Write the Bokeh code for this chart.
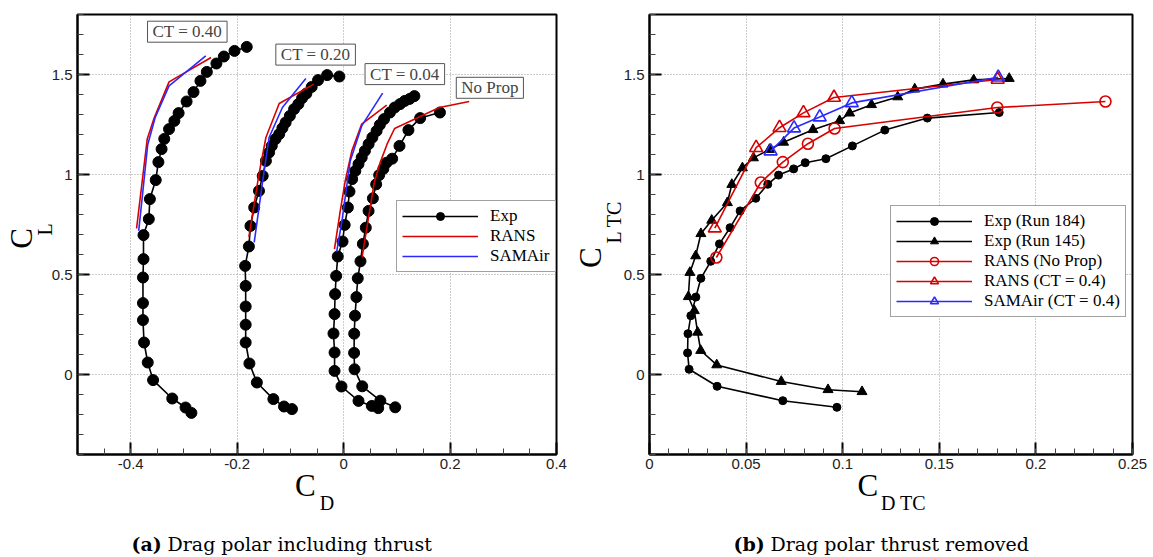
from bokeh.plotting import figure
from bokeh.layouts import row, column
from bokeh.models import FixedTicker, Legend, LegendItem, Label, Range1d, LinearAxis
from bokeh.embed import file_html
from bokeh.resources import INLINE

# ---------------- data: (a) drag polar including thrust ----------------
EXP_CT040_CD = [-0.286, -0.297, -0.322, -0.358, -0.368, -0.375, -0.377, -0.377, -0.377, -0.376,
                -0.376, -0.366, -0.364, -0.353, -0.348, -0.342, -0.337, -0.328, -0.318, -0.310,
                -0.295, -0.282, -0.269, -0.257, -0.239, -0.225, -0.205, -0.182]
EXP_CT040_CL = [-0.192, -0.165, -0.120, -0.028, 0.060, 0.160, 0.272, 0.357, 0.485, 0.577,
                0.697, 0.777, 0.877, 0.972, 1.062, 1.127, 1.178, 1.227, 1.268, 1.307,
                1.365, 1.412, 1.468, 1.513, 1.555, 1.590, 1.618, 1.638]

EXP_CT020_CD = [-0.097, -0.112, -0.132, -0.163, -0.177, -0.184, -0.184, -0.184, -0.184, -0.185,
                -0.178, -0.175, -0.168, -0.159, -0.152, -0.146, -0.140, -0.135, -0.128, -0.121,
                -0.115, -0.109, -0.101, -0.093, -0.085, -0.078, -0.070, -0.060, -0.048, -0.031, -0.008]
EXP_CT020_CL = [-0.173, -0.160, -0.123, -0.040, 0.055, 0.160, 0.249, 0.340, 0.443, 0.543,
                0.640, 0.743, 0.835, 0.918, 0.993, 1.068, 1.110, 1.143, 1.177, 1.202,
                1.232, 1.260, 1.293, 1.327, 1.352, 1.382, 1.405, 1.438, 1.472, 1.497, 1.490]

EXP_CT004_CD = [0.065, 0.053, 0.028, -0.004, -0.017, -0.017, -0.019, -0.017, -0.016, -0.014,
                -0.011, -0.002, 0.002, 0.008, 0.011, 0.016, 0.022, 0.028, 0.034, 0.040,
                0.047, 0.054, 0.062, 0.068, 0.076, 0.087, 0.096, 0.106, 0.115, 0.124, 0.133]
EXP_CT004_CL = [-0.168, -0.157, -0.132, -0.060, 0.018, 0.110, 0.205, 0.302, 0.402, 0.493,
                0.590, 0.665, 0.748, 0.835, 0.915, 0.977, 1.018, 1.052, 1.085, 1.118,
                1.152, 1.185, 1.218, 1.248, 1.277, 1.310, 1.335, 1.352, 1.368, 1.378, 1.392]

RANS_CT040_CD = [-0.389, -0.369, -0.356, -0.328, -0.249]
RANS_CT040_CL = [0.730, 1.177, 1.282, 1.463, 1.585]
SAM_CT040_CD = [-0.385, -0.368, -0.354, -0.328, -0.259]
SAM_CT040_CL = [0.718, 1.150, 1.285, 1.443, 1.593]

RANS_CT020_CD = [-0.178, -0.159, -0.146, -0.121, -0.056]
RANS_CT020_CL = [0.688, 1.002, 1.185, 1.355, 1.452]
SAM_CT020_CD = [-0.168, -0.152, -0.140, -0.115, -0.071]
SAM_CT020_CL = [0.660, 0.968, 1.185, 1.335, 1.480]

RANS_CT004_CD = [-0.0172, -0.0063, 0.003, 0.0155, 0.034, 0.081]
RANS_CT004_CL = [0.627, 0.818, 0.968, 1.118, 1.252, 1.347]
SAM_CT004_CD = [-0.013, -0.003, 0.0124, 0.034, 0.0733]
SAM_CT004_CL = [0.614, 0.770, 1.068, 1.243, 1.407]

# ---------------- data: (b) drag polar thrust removed ----------------
RUN184_CD = [0.097, 0.069, 0.035, 0.0205, 0.0197, 0.0199, 0.0214, 0.024, 0.0266, 0.0317,
             0.0362, 0.0417, 0.0469, 0.055, 0.0612, 0.0668, 0.0746, 0.0806, 0.0913, 0.105,
             0.1218, 0.1438, 0.181]
RUN184_CL = [-0.164, -0.131, -0.059, 0.026, 0.108, 0.204, 0.294, 0.387, 0.481, 0.566,
             0.653, 0.734, 0.818, 0.881, 0.951, 0.997, 1.028, 1.059, 1.079, 1.143,
             1.222, 1.282, 1.310]

RUN145_CD = [0.110, 0.0924, 0.0682, 0.0348, 0.0265, 0.0249, 0.0232, 0.0201, 0.0209, 0.0239,
             0.0266, 0.0322, 0.0403, 0.0426, 0.0481, 0.0538, 0.0621, 0.0694, 0.0846, 0.0984,
             0.1036, 0.1149, 0.1285, 0.1373, 0.1519, 0.1678, 0.1862]
RUN145_CL = [-0.086, -0.076, -0.035, 0.048, 0.120, 0.211, 0.319, 0.389, 0.510, 0.593,
             0.704, 0.771, 0.859, 0.950, 1.033, 1.083, 1.125, 1.161, 1.224, 1.269,
             1.307, 1.349, 1.388, 1.427, 1.452, 1.473, 1.480]

RANS_NP_CD = [0.0346, 0.0576, 0.069, 0.082, 0.0958, 0.180, 0.236]
RANS_NP_CL = [0.585, 0.960, 1.062, 1.154, 1.230, 1.335, 1.365]

RANS_T04_CD = [0.0338, 0.0552, 0.0673, 0.0797, 0.0955, 0.1802]
RANS_T04_CL = [0.732, 1.134, 1.234, 1.308, 1.385, 1.475]

SAM_T04_CD = [0.0627, 0.0748, 0.0881, 0.1047, 0.1805]
SAM_T04_CL = [1.117, 1.232, 1.287, 1.358, 1.486]

# ---------------- ticks ----------------
XA_TICKS = [-0.4, -0.2, 0.0, 0.2, 0.4]
XA_LABELS = ["-0.4", "-0.2", "0", "0.2", "0.4"]
XA_MINOR = [-0.45, -0.4, -0.35, -0.3, -0.25, -0.2, -0.15, -0.1, -0.05, 0.0, 0.05, 0.1, 0.15,
            0.2, 0.25, 0.3, 0.35]
XB_TICKS = [0.0, 0.05, 0.1, 0.15, 0.2, 0.25]
XB_LABELS = ["0", "0.05", "0.1", "0.15", "0.2", "0.25"]
XB_MINOR = [i / 100 for i in range(0, 26)]
Y_TICKS = [0.0, 0.5, 1.0, 1.5]
Y_LABELS = ["0", "0.5", "1", "1.5"]
Y_MINOR = [i / 10 for i in range(-4, 19)]

RED = "#d80000"
BLUE = "#2a2aff"
SERIF = "Liberation Serif"
CAPFONT = "DejaVu Serif"
SANS = "Liberation Sans"
NB = "\u00a0"

H_PLOT = 522    # plot row height (frame 14..454)
H_CAP = 35      # caption strip


def style_label(ax, text, size, standoff):
    ax.axis_label = text
    ax.axis_label_text_font = SERIF
    ax.axis_label_text_font_size = size
    ax.axis_label_text_font_style = "normal"
    ax.axis_label_text_color = "black"
    ax.axis_label_standoff = standoff


def sub_axis(p, side, text, size, standoff):
    ax = LinearAxis(ticker=FixedTicker(ticks=[]), axis_line_color=None,
                    major_tick_line_color=None, minor_tick_line_color=None,
                    major_tick_in=0, major_tick_out=0, minor_tick_in=0, minor_tick_out=0,
                    major_label_standoff=0)
    style_label(ax, text, size, standoff)
    p.add_layout(ax, side)


def make_fig(width, left, right, xr, xticks, xlabels, xminor):
    p = figure(width=width, height=H_PLOT, output_backend="svg", toolbar_location=None,
               x_range=Range1d(*xr), y_range=Range1d(-0.4, 1.8),
               min_border_left=left, min_border_right=right,
               min_border_top=14, min_border_bottom=68)
    p.outline_line_color = "black"
    p.outline_line_width = 2
    p.background_fill_color = "white"
    p.border_fill_color = "white"
    xa, ya = p.below[0], p.left[0]
    xa.ticker = FixedTicker(ticks=xticks, minor_ticks=xminor)
    ya.ticker = FixedTicker(ticks=Y_TICKS, minor_ticks=Y_MINOR)
    xa.major_label_overrides = dict(zip(xticks, xlabels))
    ya.major_label_overrides = dict(zip(Y_TICKS, Y_LABELS))
    for ax in (xa, ya):
        ax.axis_line_width = 2
        ax.axis_line_color = "black"
        ax.major_tick_in = 12
        ax.major_tick_out = 0
        ax.minor_tick_in = 6
        ax.minor_tick_out = 0
        ax.major_tick_line_width = 2
        ax.major_tick_line_color = "black"
        ax.minor_tick_line_width = 1
        ax.minor_tick_line_color = "#444444"
        ax.major_label_text_font = SANS
        ax.major_label_text_font_size = "15px"
        ax.major_label_text_color = "#222222"
    ya.major_label_standoff = 5
    xa.major_label_standoff = 4
    p.grid.grid_line_color = "#999999"
    p.grid.grid_line_dash = "1 2"
    p.grid.grid_line_width = 1
    return p


# ================= panel (a) =================
pa = make_fig(568, 74, 12, (-0.5, 0.4), XA_TICKS, XA_LABELS, XA_MINOR)

exp_renderers = []
for cd, cl in [(EXP_CT040_CD, EXP_CT040_CL), (EXP_CT020_CD, EXP_CT020_CL),
               (EXP_CT004_CD, EXP_CT004_CL), (RUN184_CD, RUN184_CL)]:
    l = pa.line(cd, cl, line_color="black", line_width=1.6)
    s = pa.scatter(cd, cl, marker="circle", size=11, fill_color="black", line_color="black")
    exp_renderers.append((l, s))

rans_a = []
for cd, cl in [(RANS_CT040_CD, RANS_CT040_CL), (RANS_CT020_CD, RANS_CT020_CL),
               (RANS_CT004_CD, RANS_CT004_CL), (RANS_NP_CD, RANS_NP_CL)]:
    rans_a.append(pa.line(cd, cl, line_color=RED, line_width=1.6))
sam_a = []
for cd, cl in [(SAM_CT040_CD, SAM_CT040_CL), (SAM_CT020_CD, SAM_CT020_CL),
               (SAM_CT004_CD, SAM_CT004_CL)]:
    sam_a.append(pa.line(cd, cl, line_color=BLUE, line_width=1.6))

for tx, x, y in [("CT = 0.40", -0.2937, 1.714), ("CT = 0.20", -0.0526, 1.5995),
                 ("CT = 0.04", 0.115, 1.502), ("No Prop", 0.2748, 1.4335)]:
    pa.add_layout(Label(x=x, y=y, text=tx, text_font=SERIF, text_font_size="17px",
                        text_align="center", text_baseline="middle",
                        border_line_color="#555555", border_line_width=1,
                        background_fill_color="white",
                        padding=dict(left=5, right=5, top=1, bottom=1)))

leg_a = Legend(items=[LegendItem(label="Exp", renderers=list(exp_renderers[0])),
                      LegendItem(label="RANS", renderers=[rans_a[0]]),
                      LegendItem(label="SAMAir", renderers=[sam_a[0]])],
               location=(319, 182))
pa.add_layout(leg_a)

# axis titles C_D and C_L (subscripts on a second, tick-less axis)
style_label(pa.below[0], "C" + NB * 3, "31px", -4)
sub_axis(pa, "below", NB * 4 + "D", "20px", -14)
style_label(pa.left[0], NB * 2 + "L", "20px", -7)
sub_axis(pa, "left", "C" + NB, "31px", -8)

# ================= panel (b) =================
pb = make_fig(585, 81, 21, (0.0, 0.25), XB_TICKS, XB_LABELS, XB_MINOR)

l184 = pb.line(RUN184_CD, RUN184_CL, line_color="black", line_width=1.6)
s184 = pb.scatter(RUN184_CD, RUN184_CL, marker="circle", size=8, fill_color="black",
                  line_color="black")
l145 = pb.line(RUN145_CD, RUN145_CL, line_color="black", line_width=1.6)
s145 = pb.scatter(RUN145_CD, RUN145_CL, marker="triangle", size=10, fill_color="black",
                  line_color="black")
lnp = pb.line(RANS_NP_CD, RANS_NP_CL, line_color=RED, line_width=1.6)
snp = pb.scatter(RANS_NP_CD, RANS_NP_CL, marker="circle", size=11, fill_color=None,
                 line_color=RED, line_width=1.6)
lrt = pb.line(RANS_T04_CD, RANS_T04_CL, line_color=RED, line_width=1.6)
srt = pb.scatter(RANS_T04_CD, RANS_T04_CL, marker="triangle", size=13, fill_color=None,
                 line_color=RED, line_width=1.6)
lst = pb.line(SAM_T04_CD, SAM_T04_CL, line_color=BLUE, line_width=1.6)
sst = pb.scatter(SAM_T04_CD, SAM_T04_CL, marker="triangle", size=13, fill_color=None,
                 line_color=BLUE, line_width=1.6)

leg_b = Legend(items=[LegendItem(label="Exp (Run 184)", renderers=[l184, s184]),
                      LegendItem(label="Exp (Run 145)", renderers=[l145, s145]),
                      LegendItem(label="RANS (No Prop)", renderers=[lnp, snp]),
                      LegendItem(label="RANS (CT = 0.4)", renderers=[lrt, srt]),
                      LegendItem(label="SAMAir (CT = 0.4)", renderers=[lst, sst])],
               location=(241, 137))
pb.add_layout(leg_b)

style_label(pb.below[0], "C" + NB * 6, "31px", -4)
sub_axis(pb, "below", NB * 5 + "D TC", "20px", -14)
style_label(pb.left[0], NB * 5 + "L TC", "20px", -4)
sub_axis(pb, "left", "C" + NB * 6, "31px", -8)

for lg in (leg_a, leg_b):
    lg.label_text_font = SERIF
    lg.label_text_font_size = "17px"
    lg.label_text_color = "black"
    lg.glyph_width = 76
    lg.glyph_height = 20
    lg.label_height = 20
    lg.label_standoff = 12
    lg.padding = 5
    lg.spacing = 0
    lg.margin = 0
    lg.border_line_color = "#444444"
    lg.border_line_width = 1
    lg.background_fill_color = "white"
    lg.background_fill_alpha = 1.0

# ================= captions =================
cap = figure(width=1153, height=H_CAP, output_backend="svg", toolbar_location=None,
             x_range=Range1d(0, 1153), y_range=Range1d(0, H_CAP),
             x_axis_location=None, y_axis_location=None, min_border=0)
cap.outline_line_color = None
cap.border_fill_color = "white"
cap.xgrid.visible = False
cap.ygrid.visible = False
for x, txt, st in [(131, "(a)", "bold"), (167, "Drag polar including thrust", "normal"),
                   (733, "(b)", "bold"), (770, "Drag polar thrust removed", "normal")]:
    cap.add_layout(Label(x=x, y=14, text=txt, text_font=CAPFONT, text_font_size="19px",
                         text_align="left", text_baseline="middle", text_font_style=st,
                         text_color="black"))

layout = column(row(pa, pb, spacing=0), cap, spacing=0)
open("out.html", "w").write(file_html(layout, INLINE))
